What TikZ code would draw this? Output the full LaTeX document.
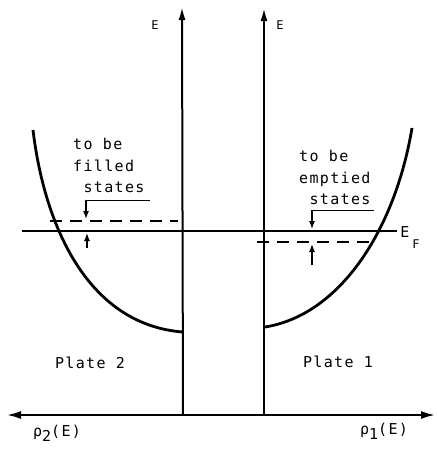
\documentclass[tikz,border=0pt]{standalone}
\usepackage{fontspec}
\newfontfamily\typefont[LetterSpace=9]{DejaVu Sans Mono}
\usetikzlibrary{arrows.meta}
\begin{document}
\begin{tikzpicture}[x=1pt,y=-1pt,every node/.style={font=\typefont\fontsize{15}{21.5}\selectfont,inner sep=0pt},
    axis/.style={line width=2pt},curve/.style={line width=2.8pt},
    dashline/.style={line width=2.2pt,dash pattern=on 12pt off 8pt},
    tick/.style={line width=1.2pt,-{Latex[length=8pt,width=6pt]}}]
    \useasboundingbox (0,0) rectangle (437,451);
    % axes
    \coordinate (o2) at (183,415);
    \coordinate (o1) at (264,415);
    \coordinate (e2) at (182,7);
    \coordinate (e1) at (264,8);
    \coordinate (rl) at (7,415);
    \coordinate (rr) at (435,415);
    \draw[axis,-{Latex[length=13pt,width=7pt]}] (o2) -- (e2);
    \draw[axis,-{Latex[length=13pt,width=7pt]}] (o1) -- (e1);
    \draw[axis,{Latex[length=14pt,width=8pt]}-{Latex[length=14pt,width=8pt]}] (rl) -- (rr);
    \node[font=\typefont\fontsize{12}{12}\selectfont] (lab2) at (155,25) {E};
    \node[font=\typefont\fontsize{12}{12}\selectfont] (lab1) at (280,25) {E};
    % Fermi level
    \coordinate (fl) at (22,231);
    \coordinate (fr) at (397,231);
    \draw[line width=1.8pt] (fl) -- (fr);
    \node (ef) at (405,232) {E};
    \node[font=\typefont\fontsize{12}{12}\selectfont] (efsub) at (416,244) {F};
    % densities of states
    \draw[curve] (33,130) .. controls (45,230) and (90,325) .. (183,332);
    \draw[curve] (265,327) .. controls (340,315) and (395,230) .. (412,128);
    \draw[dashline] (50,221) -- (178,221);
    \draw[dashline] (257,242) -- (370,242);
    % labels
    \node[anchor=north west,align=left] (fill) at (73,138) {to be\\filled\\~states};
    \node[anchor=north west,align=left] (empty) at (299,150) {to be\\emptied\\~states};
    \coordinate (u2) at (86,200);
    \coordinate (u1) at (312,210);
    \draw[line width=.8pt] (u2) -- +(64,0);
    \draw[line width=.8pt] (u1) -- +(62,0);
    \coordinate (d2) at (86,219);
    \coordinate (d1) at (312,229);
    \draw[tick] (u2) -- (d2);
    \draw[tick] (u1) -- (d1);
    \coordinate (b2) at (87,248);
    \coordinate (t2) at (87,233);
    \coordinate (b1) at (312,265);
    \coordinate (t1) at (312,244);
    \draw[tick] (b2) -- (t2);
    \draw[tick] (b1) -- (t1);
    \node (plate2) at (90,363) {Plate 2};
    \node (plate1) at (338,362) {Plate 1};
    \node (rho2) at (57,433) {ρ\raisebox{-5pt}{2}(E)};
    \node (rho1) at (384,431) {ρ\raisebox{-5pt}{1}(E)};
\end{tikzpicture}
\end{document}
